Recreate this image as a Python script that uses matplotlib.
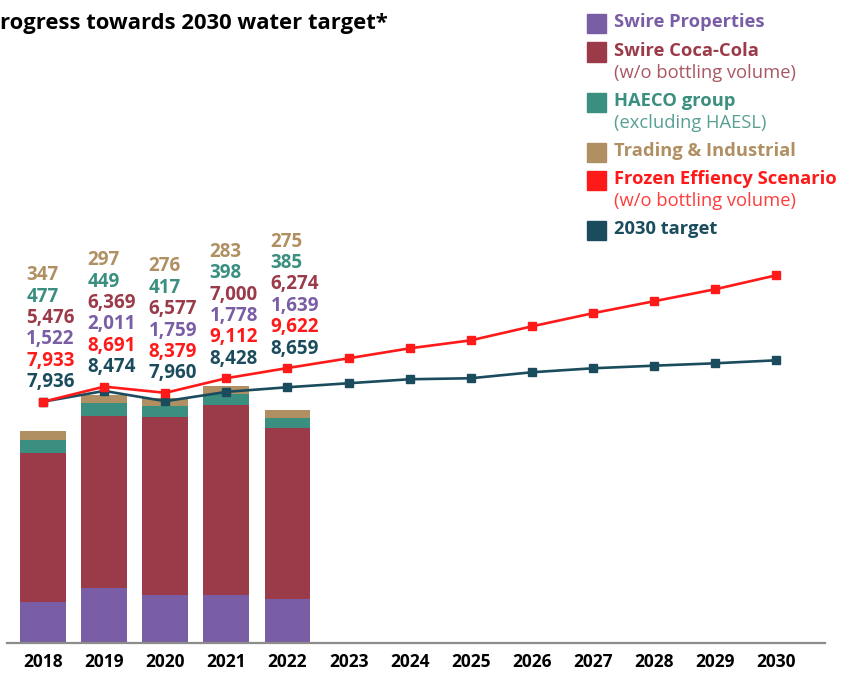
import numpy as np
import matplotlib.pyplot as plt
from matplotlib.patches import Rectangle

plt.rcParams['font.family'] = ['Open Sans', 'DejaVu Sans']

years = [str(y) for y in range(2018, 2031)]
bar_years = years[:5]

swire_properties = [1522, 2011, 1759, 1778, 1639]
swire_coca_cola = [5476, 6369, 6577, 7000, 6274]
haeco_group = [477, 449, 417, 398, 385]
trading_industrial = [347, 297, 276, 283, 275]

frozen_scenario = [7933, 8691, 8379, 9112, 9622, 10110, 10610, 11010,
                   11710, 12370, 12970, 13570, 14270]
target_2030 = [7936, 8474, 7960, 8428, 8659, 8860, 9060, 9110,
               9410, 9610, 9740, 9860, 10010]

C_PROP = '#7a5ea5'
C_COKE = '#9b3a48'
C_HAECO = '#3a8f80'
C_TRADE = '#b09062'
C_FROZEN = '#ff1a1a'
C_TARGET = '#1b4c5e'

W, H = 841, 673
fig = plt.figure(figsize=(W / 100, H / 100), dpi=100)
ax = fig.add_axes([6.5 / W, 30 / H, (825 - 6.5) / W, 643 / H])

x = np.arange(len(years))
xb = np.arange(len(bar_years))

# stacked bars
bottom = np.zeros(len(bar_years))
for vals, col in [(swire_properties, C_PROP), (swire_coca_cola, C_COKE),
                  (haeco_group, C_HAECO), (trading_industrial, C_TRADE)]:
    ax.bar(xb, vals, 0.75, bottom=bottom, color=col, zorder=2)
    bottom += np.array(vals)

ax.set_xlim(-0.6, 12.8)
ax.set_ylim(0, 23700)
ax.set_xticks(x)
ax.set_xticklabels(years, fontsize=12.5, fontweight='bold', color='black')
ax.tick_params(axis='x', length=0, pad=7)
ax.set_yticks([])
for s in ['top', 'left', 'right']:
    ax.spines[s].set_visible(False)
ax.spines['bottom'].set_color('#8c8c8c')
ax.spines['bottom'].set_linewidth(1.6)

# lines on their own scale
ax2 = ax.twinx()
ax2.set_ylim(-4160, 28070)
ax2.set_yticks([])
for s in ax2.spines.values():
    s.set_visible(False)
ax2.plot(x, target_2030, color=C_TARGET, lw=1.9, marker='s', ms=6, zorder=3)
ax2.plot(x, frozen_scenario, color=C_FROZEN, lw=1.9, marker='s', ms=6, zorder=4)

# value labels above bars
step = 15.4
for i in range(len(bar_years)):
    base = max(frozen_scenario[i], target_2030[i])
    stack = [(target_2030[i], C_TARGET), (frozen_scenario[i], C_FROZEN),
             (swire_properties[i], C_PROP), (swire_coca_cola[i], C_COKE),
             (haeco_group[i], C_HAECO), (trading_industrial[i], C_TRADE)]
    for k, (v, col) in enumerate(stack):
        ax2.annotate(f'{v:,}', (i, base), xytext=(-12.2, 14.0 + k * step),
                     textcoords='offset points', ha='left', va='center',
                     fontsize=13.5, fontweight='bold', color=col)

# title (the source shows it cut at the left edge)
fig.text(0, 1 - 29.3 / H, 'rogress towards 2030 water target*',
         fontsize=15.8, fontweight='bold', color='black', va='baseline')

# legend
def fx(px):
    return px / W

def fy(py):
    return 1 - py / H

legend_rows = [
    ('Swire Properties', None, C_PROP, 23.3),
    ('Swire Coca-Cola', '(w/o bottling volume)', C_COKE, 52),
    ('HAECO group', '(excluding HAESL)', C_HAECO, 102),
    ('Trading & Industrial', None, C_TRADE, 152),
    ('Frozen Effiency Scenario', '(w/o bottling volume)', C_FROZEN, 180.5),
    ('2030 target', None, C_TARGET, 230),
]
for name, sub, col, yc in legend_rows:
    fig.add_artist(Rectangle((fx(587), fy(yc + 9.5)), 19 / W, 19 / H,
                             transform=fig.transFigure, color=col))
    fig.text(fx(614), fy(yc - 1.5), name, fontsize=13.2, fontweight='bold',
             color=col, va='center')
    if sub:
        fig.text(fx(614), fy(yc + 20.5), sub, fontsize=13.2, color=col,
                 va='center', alpha=0.85)

fig.savefig('out.png', dpi=100)
